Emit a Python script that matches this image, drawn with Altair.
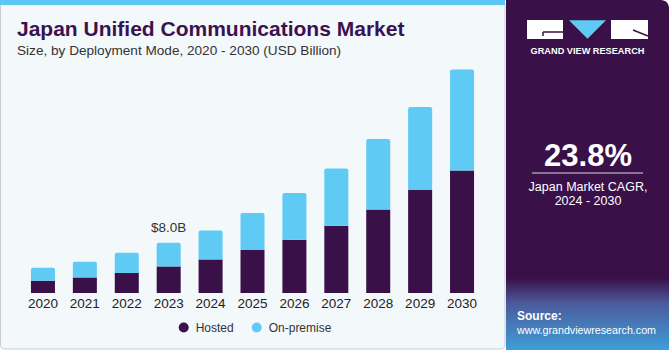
import altair as alt
import pandas as pd

# ---------------- data ----------------
years = ["2020", "2021", "2022", "2023", "2024", "2025", "2026", "2027", "2028", "2029", "2030"]
hosted = [1.95, 2.48, 3.18, 4.23, 5.34, 6.84, 8.47, 10.70, 13.29, 16.38, 19.49]
on_premise = [2.07, 2.50, 3.23, 3.77, 4.61, 5.88, 7.43, 9.10, 11.19, 13.19, 16.06]
series_names = ["Hosted", "On-premise"]
series_colors = ["#3A1049", "#5FCBF5"]

annot_year = "2023"
annot_text = "$8.0B"

title_text = "Japan Unified Communications Market"
subtitle_text = "Size, by Deployment Mode, 2020 - 2030 (USD Billion)"
cagr_value = "23.8%"
cagr_line1 = "Japan Market CAGR,"
cagr_line2 = "2024 - 2030"
brand_text = "GRAND VIEW RESEARCH"
source_label = "Source:"
source_url = "www.grandviewresearch.com"

FONT = "Liberation Sans"
PURPLE = "#3A1049"
BLUE = "#5FCBF5"

# ---------------- tables ----------------
rows = []
for y, h, o in zip(years, hosted, on_premise):
    rows.append({"year": y, "series": series_names[0], "start": 0.0, "end": h})
    rows.append({"year": y, "series": series_names[1], "start": h, "end": h + o})
df = pd.DataFrame(rows)
df_hosted = df[df.series == series_names[0]]
df_onprem = df[df.series == series_names[1]]
df_years = pd.DataFrame({"year": years})

totals = {y: h + o for y, h, o in zip(years, hosted, on_premise)}
df_annot = pd.DataFrame({"year": [annot_year], "total": [totals[annot_year]], "label": [annot_text]})

one = pd.DataFrame({"k": [0]})

x_scale = alt.Scale(domain=years, range=[22, 483], paddingInner=0.427, paddingOuter=0.2135)
y_scale = alt.Scale(domain=[0, 40], range=[293, 41.4])
color_scale = alt.Scale(domain=series_names, range=series_colors)


def rect(x, x2, y, y2, **kw):
    return alt.Chart(one).mark_rect(**kw).encode(
        x=alt.value(x), x2=alt.value(x2), y=alt.value(y), y2=alt.value(y2)
    )


def text(s, x, y, **kw):
    return alt.Chart(pd.DataFrame({"t": [s]})).mark_text(font=FONT, baseline="alphabetic", **kw).encode(
        x=alt.value(x), y=alt.value(y), text="t:N"
    )


def rule(x, x2, y, y2, **kw):
    return alt.Chart(one).mark_rule(**kw).encode(
        x=alt.value(x), x2=alt.value(x2), y=alt.value(y), y2=alt.value(y2)
    )


# ---------------- decoration ----------------
left_panel = rect(0.5, 505, 0.5, 349, fill="#F3F8FB", stroke="#C9CDD1", strokeWidth=1, cornerRadius=4)
top_bar = rect(0, 505, 0, 5, fill="#5CC8F2")
right_panel = rect(506, 669, 0, 350, fill=PURPLE, cornerRadiusTopRight=8)
right_grad = rect(
    506, 669, 278, 350,
    color=alt.Gradient(
        gradient="linear",
        stops=[alt.GradientStop(color=PURPLE, offset=0), alt.GradientStop(color="#4B5A9C", offset=0.35),
               alt.GradientStop(color="#3F9ED8", offset=1)],
        x1=0, x2=0, y1=0, y2=1,
    ),
)

logo_l = rect(527, 563, 20, 39, fill="white")
logo_r = rect(611, 648, 20, 39, fill="white")
logo_tri = alt.Chart(one).mark_point(
    shape="M-1,-0.5L1,-0.5L0,0.5Z", filled=True, fill=BLUE, opacity=1, strokeWidth=0, size=1369
).encode(x=alt.value(587.5), y=alt.value(29.5))
logo_g1 = rule(543, 563, 32, 32, color=PURPLE, strokeWidth=1.5)
logo_g2 = rule(543, 543, 32, 36, color=PURPLE, strokeWidth=1.5)
logo_r1 = rule(633, 648, 30, 36, color=PURPLE, strokeWidth=1.5)
brand = text(brand_text, 587.5, 54, fontSize=9.2, fontWeight="bold", color="white", align="center")

cagr_big = text(cagr_value, 588, 166, fontSize=31, fontWeight="bold", color="white", align="center")
cagr_rule = rule(532, 643, 173, 173, color="#D8D8E0", strokeWidth=1)
cagr_t1 = text(cagr_line1, 588, 190.5, fontSize=12.5, color="white", align="center")
cagr_t2 = text(cagr_line2, 588, 205, fontSize=12.5, color="white", align="center")
src1 = text(source_label, 517, 320, fontSize=12, fontWeight="bold", color="white", align="left")
src2 = text(source_url, 517, 333.5, fontSize=10.7, color="white", align="left")

title = text(title_text, 17, 36, fontSize=21, fontWeight="bold", color="#3B1250", align="left")
subtitle = text(subtitle_text, 17, 54.5, fontSize=13.6, color="#333333", align="left")

# ---------------- bars ----------------
legend = alt.Legend(
    title=None, orient="none", legendX=177.7, legendY=321.5, direction="horizontal",
    symbolType="circle", symbolSize=100, labelFontSize=12, labelFont=FONT, labelColor="#333333",
    labelOffset=6, columnPadding=16, padding=0, symbolStrokeWidth=0,
)

bars_h = alt.Chart(df_hosted).mark_bar().encode(
    x=alt.X("year:N", scale=x_scale, sort=years, axis=None),
    y=alt.Y("start:Q", scale=y_scale, axis=None),
    y2="end:Q",
    color=alt.Color("series:N", scale=color_scale, legend=legend),
)
bars_o = alt.Chart(df_onprem).mark_bar(cornerRadiusTopLeft=2, cornerRadiusTopRight=2).encode(
    x=alt.X("year:N", scale=x_scale, sort=years, axis=None),
    y=alt.Y("start:Q", scale=y_scale, axis=None),
    y2="end:Q",
    color=alt.Color("series:N", scale=color_scale, legend=legend),
)
year_labels = alt.Chart(df_years).mark_text(
    font=FONT, fontSize=13.5, color="#222222", baseline="alphabetic"
).encode(
    x=alt.X("year:N", scale=x_scale, sort=years, axis=None),
    y=alt.value(308),
    text="year:N",
)
annot = alt.Chart(df_annot).mark_text(font=FONT, fontSize=13.5, color="#333333", dy=-11, baseline="alphabetic").encode(
    x=alt.X("year:N", scale=x_scale, sort=years, axis=None),
    y=alt.Y("total:Q", scale=y_scale, axis=None),
    text="label:N",
)

chart = alt.layer(
    left_panel, top_bar, right_panel, right_grad,
    logo_l, logo_r, logo_tri, logo_g1, logo_g2, logo_r1, brand,
    cagr_big, cagr_rule, cagr_t1, cagr_t2, src1, src2,
    title, subtitle,
    bars_h, bars_o, year_labels, annot,
).properties(
    width=670, height=350, autosize=alt.AutoSizeParams(type="none"), padding=0, background="white"
).configure_view(stroke=None)

chart.save("out.html", embed_options={"renderer": "svg", "actions": False})
